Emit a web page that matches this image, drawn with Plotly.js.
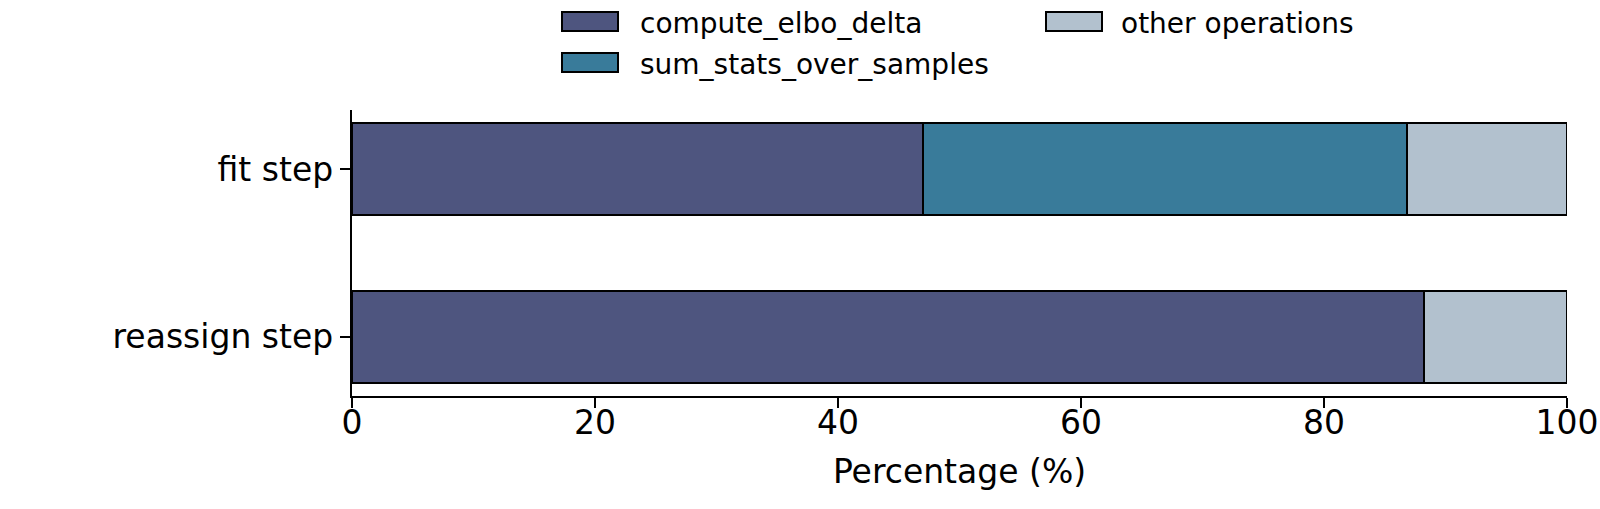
<!DOCTYPE html>
<html>
<head>
<meta charset="utf-8">
<script src="https://cdn.plot.ly/plotly-3.0.1.min.js"></script>
<style>
  html, body { margin: 0; padding: 0; background: #ffffff; }
  #chart { width: 1600px; height: 509px; }
</style>
</head>
<body>
<div id="chart"></div>
<script>
// ---- data ----
const categories = ['reassign step', 'fit step'];
const computeElboDelta = [88.2, 47.0];
const sumStatsOverSamples = [null, 39.8];
const otherOperations = [11.8, 13.2];
const seriesNames = ['compute_elbo_delta', 'sum_stats_over_samples', 'other operations'];
const xTickValues = [0, 20, 40, 60, 80, 100];

// ---- styling ----
const colors = ['#4e557f', '#397b9a', '#b2c1ce'];
const W = 1600, H = 509;
const M = { l: 352, r: 33, t: 110, b: 113 };
const FONT = 'DejaVu Sans, Liberation Sans, sans-serif';

const plotW = W - M.l - M.r, plotH = H - M.t - M.b;
const px2x = p => (p - M.l) / plotW;
const px2y = p => (H - M.b - p) / plotH;

const seriesValues = [computeElboDelta, sumStatsOverSamples, otherOperations];
const traces = seriesValues.map((vals, i) => ({
  type: 'bar',
  orientation: 'h',
  name: seriesNames[i],
  y: categories,
  x: vals,
  width: 0.55,
  marker: { color: colors[i], line: { color: '#000000', width: 2 } },
  showlegend: false,
  hoverinfo: 'x+name'
}));

// custom legend (swatch + label), two columns like the reference
const legendItems = [
  { sx: 562, sy: 12, tx: 638, ty: 23 },
  { sx: 562, sy: 53, tx: 638, ty: 64 },
  { sx: 1046, sy: 12, tx: 1119, ty: 23 }
];
const shapes = legendItems.map((it, i) => ({
  type: 'rect', xref: 'paper', yref: 'paper',
  x0: px2x(it.sx), x1: px2x(it.sx + 56),
  y0: px2y(it.sy), y1: px2y(it.sy + 19),
  fillcolor: colors[i],
  line: { color: '#000000', width: 2 }
}));
const annotations = legendItems.map((it, i) => ({
  xref: 'paper', yref: 'paper',
  x: px2x(it.tx), y: px2y(it.ty),
  xanchor: 'left', yanchor: 'middle',
  text: seriesNames[i], showarrow: false,
  font: { family: FONT, size: 28, color: '#000000' }
}));

const layout = {
  width: W, height: H,
  margin: M,
  paper_bgcolor: '#ffffff', plot_bgcolor: '#ffffff',
  font: { family: FONT, size: 33, color: '#000000' },
  barmode: 'stack',
  showlegend: false,
  xaxis: {
    range: [0, 100],
    tickvals: xTickValues,
    ticktext: xTickValues.map(String),
    showgrid: false, zeroline: false,
    showline: true, linecolor: '#000000', linewidth: 2.2,
    ticks: 'outside', ticklen: 10, tickwidth: 2.2, tickcolor: '#000000',
    tickfont: { family: FONT, size: 33, color: '#000000' },
    ticklabelstandoff: -14,
    title: { text: 'Percentage (%)', font: { family: FONT, size: 33, color: '#000000' }, standoff: 19 },
    automargin: false, fixedrange: true
  },
  yaxis: {
    type: 'category',
    categoryorder: 'array', categoryarray: categories,
    range: [-0.3525, 1.3525],
    showgrid: false, zeroline: false,
    showline: true, linecolor: '#000000', linewidth: 2.2,
    ticks: 'outside', ticklen: 10, tickwidth: 2.2, tickcolor: '#000000',
    tickfont: { family: FONT, size: 33, color: '#000000' },
    ticklabelstandoff: 0,
    automargin: false, fixedrange: true
  },
  shapes: shapes,
  annotations: annotations
};

Plotly.newPlot('chart', traces, layout, { displayModeBar: false, staticPlot: true });
</script>
</body>
</html>
